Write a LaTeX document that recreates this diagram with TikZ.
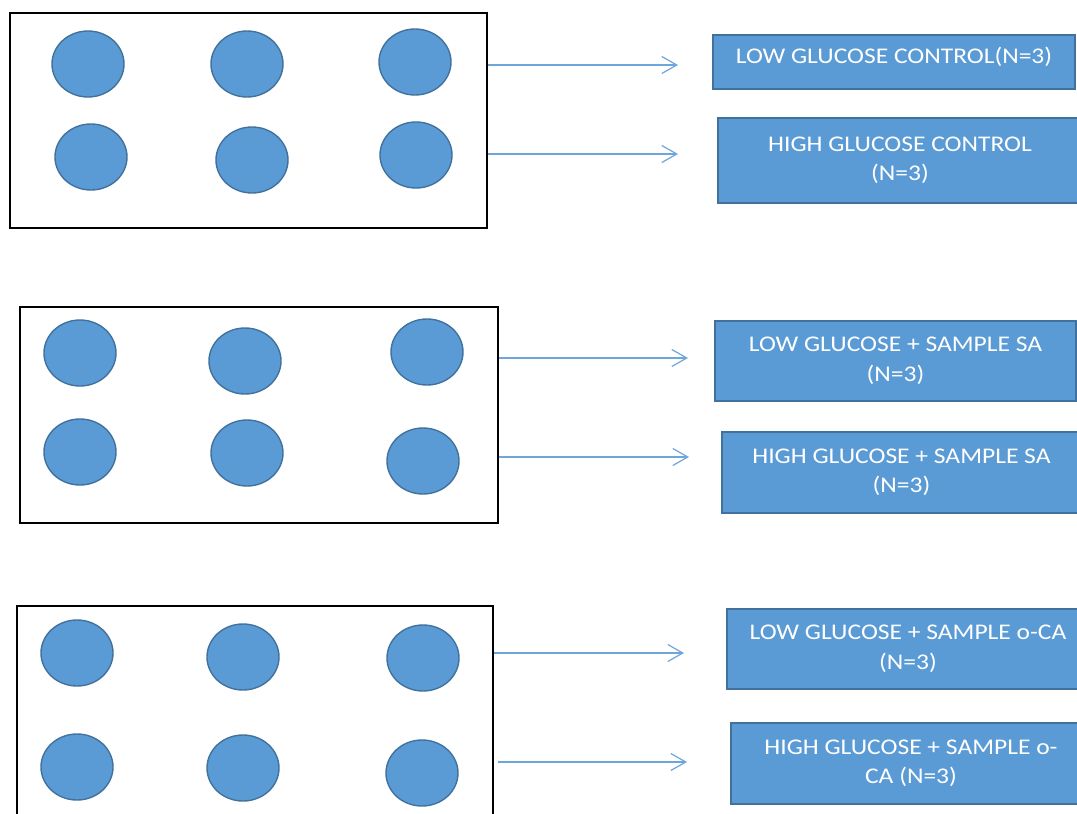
\documentclass[tikz,border=0pt]{standalone}
\usepackage{fontspec}
\setmainfont{Carlito}[FakeStretch=1.14]
\usetikzlibrary{shapes.geometric,arrows.meta}
\definecolor{wellblue}{HTML}{5B9BD5}
\definecolor{welledge}{HTML}{41719C}
\definecolor{arrowblue}{HTML}{6FA6DA}
\tikzset{
  plate/.style={draw=black, line width=2.4pt, fill=white, inner sep=0pt},
  well/.style={ellipse, draw=welledge, line width=1.4pt, fill=wellblue,
    minimum width=72pt, minimum height=66pt, inner sep=0pt},
  group/.style={draw=welledge, line width=1.6pt, fill=wellblue, text=white,
    align=center, inner sep=0pt, font=\fontsize{22.4}{29.5}\selectfont},
  feed/.style={draw=arrowblue, line width=1.2pt,
    -{Straight Barb[length=15pt,width=17pt,line width=1.2pt]}}
}
\begin{document}
\begin{tikzpicture}[x=1pt,y=-1pt]
\clip (0,0) rectangle (1077,814);
\fill[white] (0,0) rectangle (1077,814);

% plates
\node[plate, minimum width=477pt, minimum height=215pt] (P1) at (248.5,120.5) {};
\node[plate, minimum width=478pt, minimum height=216pt] (P2) at (259,415) {};
\node[plate, minimum width=476pt, minimum height=224pt] (P3) at (255,718) {};

% wells of plate 1
\node[well] (w11) at (88,64) {};
\node[well] (w12) at (247,64) {};
\node[well] (w13) at (415,62) {};
\node[well] (w14) at (91,157) {};
\node[well] (w15) at (252,160) {};
\node[well] (w16) at (416,155) {};
% wells of plate 2
\node[well] (w21) at (80,353) {};
\node[well] (w22) at (245,361) {};
\node[well] (w23) at (427,352) {};
\node[well] (w24) at (80,452) {};
\node[well] (w25) at (247,453) {};
\node[well] (w26) at (423,461) {};
% wells of plate 3
\node[well] (w31) at (77,653) {};
\node[well] (w32) at (243,657) {};
\node[well] (w33) at (423,658) {};
\node[well] (w34) at (77,767) {};
\node[well] (w35) at (243,768) {};
\node[well] (w36) at (422,773) {};

% treatment groups
\node[group, minimum width=362pt, minimum height=54pt] (g1) at (894,62)
  {\raisebox{5pt}[\height][\depth]{LOW GLUCOSE CONTROL(N=3)}};
\node[group, minimum width=364pt, minimum height=85pt] (g2) at (900,160.5)
  {HIGH GLUCOSE CONTROL\\(N=3)};
\node[group, minimum width=361pt, minimum height=80pt] (g3) at (895.5,361)
  {LOW GLUCOSE + SAMPLE SA\\(N=3)};
\node[group, minimum width=359pt, minimum height=81pt] (g4) at (901.5,472.5)
  {HIGH GLUCOSE + SAMPLE SA\\(N=3)};
\node[group, minimum width=362pt, minimum height=80pt] (g5) at (908,649)
  {LOW GLUCOSE + SAMPLE o-CA\\(N=3)};
\node[group, minimum width=360pt, minimum height=81pt] (g6) at (911,763.5)
  {HIGH GLUCOSE + SAMPLE o-\\CA (N=3)};

% arrow tips
\coordinate (t1) at (678,65);
\coordinate (t2) at (678,154);
\coordinate (t3) at (688,358);
\coordinate (t4) at (689,457);
\coordinate (t5) at (684,653);
\coordinate (t6) at (687,762);

\draw[feed] (P1.east |- t1) -- (t1);
\draw[feed] (P1.east |- t2) -- (t2);
\draw[feed] (P2.east |- t3) -- (t3);
\draw[feed] (P2.east |- t4) -- (t4);
\draw[feed] (P3.east |- t5) -- (t5);
\draw[feed] ([xshift=4pt]P3.east |- t6) -- (t6);
\end{tikzpicture}
\end{document}
